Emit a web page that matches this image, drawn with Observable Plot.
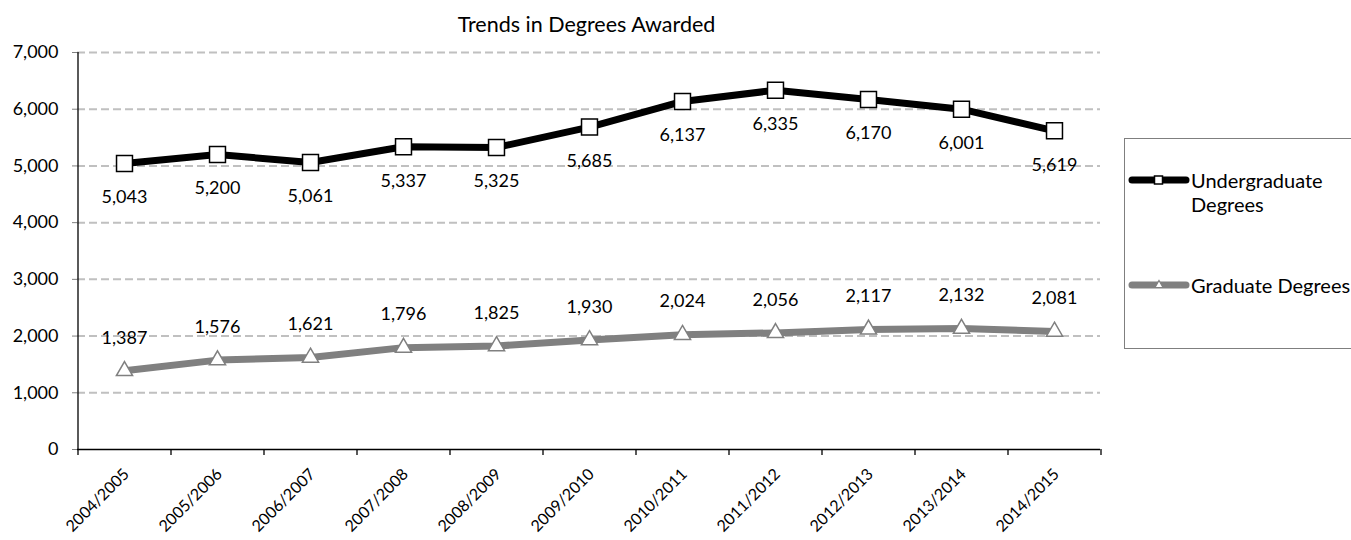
<!DOCTYPE html>
<html><head><meta charset="utf-8">
<script src="https://cdn.jsdelivr.net/npm/d3@7"></script>
<script src="https://cdn.jsdelivr.net/npm/@observablehq/plot@0.6"></script>
<style>
body{margin:0;background:#fff;font-family:Lato,"Open Sans",sans-serif;color:#000;}
#wrap{position:relative;width:1351px;height:540px;overflow:hidden;}
#chart{position:absolute;left:0;top:0;}
#title{position:absolute;left:0;width:1173px;top:11px;text-align:center;font-size:21.5px;line-height:26px;}
#legend{position:absolute;left:1124px;top:138px;width:260px;height:209px;border:1px solid #7f7f7f;background:#fff;}
.item{position:absolute;left:0;}
.item svg{position:absolute;left:3px;}
.item .lab{position:absolute;left:66px;font-size:20px;line-height:24px;white-space:nowrap;}
</style></head><body>
<div id="wrap">
  <div id="chart"></div>
  <div id="title">Trends in Degrees Awarded</div>
  <div id="legend">
    <div class="item" style="top:31px;">
      <svg width="62" height="20"><line x1="4" y1="10" x2="58" y2="10" stroke="#000" stroke-width="7" stroke-linecap="round"/><rect x="26.5" y="6" width="8" height="8" fill="#fff" stroke="#000" stroke-width="1.5"/></svg>
      <div class="lab" style="top:-2px;">Undergraduate<br>Degrees</div>
    </div>
    <div class="item" style="top:136px;">
      <svg width="62" height="20"><line x1="4" y1="10" x2="58" y2="10" stroke="#808080" stroke-width="7" stroke-linecap="round"/><path d="M31,5.5 L35,12.5 L27,12.5 Z" fill="#fff" stroke="#808080" stroke-width="1.2"/></svg>
      <div class="lab" style="top:-2px;">Graduate Degrees</div>
    </div>
  </div>
</div>
<script>
const years = ["2004/2005","2005/2006","2006/2007","2007/2008","2008/2009","2009/2010","2010/2011","2011/2012","2012/2013","2013/2014","2014/2015"];
const undergrad = [5043,5200,5061,5337,5325,5685,6137,6335,6170,6001,5619];
const graduate = [1387,1576,1621,1796,1825,1930,2024,2056,2117,2132,2081];
const yTicks = [0,1000,2000,3000,4000,5000,6000,7000];

const rows = years.map((year, i) => ({year, ug: undergrad[i], gr: graduate[i]}));
const fmt = d3.format(",");
const half = 1023 / years.length / 2;

const chart = Plot.plot({
  width: 1351,
  height: 540,
  marginLeft: 77,
  marginRight: 251,
  marginTop: 52,
  marginBottom: 91,
  style: {fontFamily: "Lato, 'Open Sans', sans-serif", color: "#000", background: "transparent"},
  x: {type: "point", domain: years, padding: 0.5, align: 0.5, axis: null},
  y: {domain: [0, 7000]},
  marks: [
    Plot.gridY(yTicks.filter(v => v > 0), {stroke: "#c0c0c0", strokeOpacity: 1, strokeWidth: 2, strokeDasharray: "8,4"}),
    Plot.axisY(yTicks, {tickFormat: fmt, tickSize: 5, tickPadding: 14, fontSize: 18, label: null, stroke: "#808080"}),
    Plot.ruleY([0], {stroke: "#000", strokeWidth: 1.3}),
    Plot.ruleX([years[0]], {dx: -half, stroke: "#000", strokeWidth: 1.3, insetBottom: -6}),
    Plot.ruleX(years.slice(1), {dx: -half, stroke: "#000", strokeWidth: 1.3, insetTop: 397, insetBottom: -6}),
    Plot.ruleX([years[years.length - 1]], {dx: half, stroke: "#000", strokeWidth: 1.3, insetTop: 397, insetBottom: -6}),
    Plot.text(years, {x: d => d, frameAnchor: "bottom", rotate: -45, textAnchor: "end", lineAnchor: "middle", dx: 2, dy: 22, fontSize: 16}),
    Plot.line(rows, {x: "year", y: "gr", stroke: "#808080", strokeWidth: 7, strokeLinejoin: "round"}),
    Plot.line(rows, {x: "year", y: "ug", stroke: "#000", strokeWidth: 7, strokeLinejoin: "round"}),
    Plot.dot(rows, {x: "year", y: "ug", symbol: "square", r: 9, fill: "#fff", stroke: "#000", strokeWidth: 1.5}),
    Plot.dot(rows, {x: "year", y: "gr", symbol: "triangle", r: 6, fill: "#fff", stroke: "#808080", strokeWidth: 1.5}),
    Plot.text(rows, {x: "year", y: "ug", text: d => fmt(d.ug), dy: 34, lineAnchor: "middle", fontSize: 18}),
    Plot.text(rows, {x: "year", y: "gr", text: d => fmt(d.gr), dy: -33, lineAnchor: "middle", fontSize: 18})
  ]
});
document.getElementById("chart").appendChild(chart);
</script>
</body></html>
